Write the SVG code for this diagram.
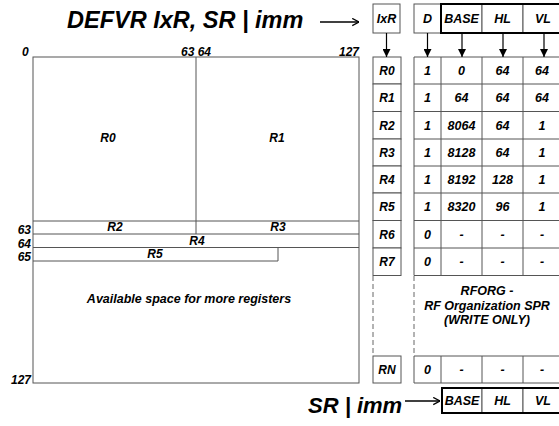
<svg xmlns="http://www.w3.org/2000/svg" width="559" height="426" viewBox="0 0 559 426">
<style>
text{font-family:"Liberation Sans",Arial,sans-serif;font-weight:bold;font-style:italic;fill:#000}
.big{font-size:23.5px}
.big2{font-size:22px}
.t{font-size:12.5px;text-anchor:middle}
.h{font-size:12.5px;text-anchor:middle}
.r{font-size:12px;text-anchor:middle}
.lbl{font-size:12px}
.box{fill:#fff;stroke:#555;stroke-width:1}
.ln{stroke:#555;stroke-width:1;fill:none}
.bold{fill:none;stroke:#000;stroke-width:2}
.dash{stroke:#666;stroke-width:1;stroke-dasharray:5,3;fill:none}
.arr{stroke:#000;stroke-width:1.2;fill:none;marker-end:url(#ah)}
.arr2{stroke:#000;stroke-width:1.3;fill:none;marker-end:url(#oh)}
</style>
<defs>
<marker id="ah" viewBox="0 0 10 10" refX="10" refY="5" markerWidth="8" markerHeight="8" markerUnits="userSpaceOnUse" orient="auto">
<path d="M0,0 L10,5 L0,10 z" fill="#000"/>
</marker>
<marker id="oh" viewBox="0 0 10 10" refX="9.5" refY="5" markerWidth="9" markerHeight="9" markerUnits="userSpaceOnUse" orient="auto">
<path d="M2,1 L9.5,5 L2,9" fill="none" stroke="#000" stroke-width="1.4"/>
</marker>
</defs>
<rect width="559" height="426" fill="#fff"/>

<g id="title">
<text class="big" x="67" y="28">DEFVR IxR, SR | imm</text>
</g>

<g id="regfile">
<rect class="ln" x="33" y="57" width="326" height="326"/>
<line class="ln" x1="196" y1="57" x2="196" y2="234"/>
<line class="ln" x1="33" y1="221" x2="359" y2="221"/>
<line class="ln" x1="33" y1="234" x2="359" y2="234"/>
<line class="ln" x1="33" y1="247.5" x2="359" y2="247.5"/>
<polyline class="ln" points="33,261 278,261 278,247.5"/>
<text class="lbl" x="22" y="56">0</text>
<text class="lbl" x="196" y="56" text-anchor="middle">63 64</text>
<text class="lbl" x="359" y="56" text-anchor="end">127</text>
<text class="lbl" x="31" y="234" text-anchor="end">63</text>
<text class="lbl" x="31" y="247.5" text-anchor="end">64</text>
<text class="lbl" x="31" y="261" text-anchor="end">65</text>
<text class="lbl" x="31" y="384" text-anchor="end">127</text>
<text class="r" x="108" y="142">R0</text>
<text class="r" x="277" y="142">R1</text>
<text class="r" x="115" y="231">R2</text>
<text class="r" x="278" y="231">R3</text>
<text class="r" x="197" y="244.5">R4</text>
<text class="r" x="155" y="258">R5</text>
<text class="t" x="189" y="303">Available space for more registers</text>
</g>

<g id="ixr">
<rect class="box" x="373" y="4" width="27" height="29"/>
<text class="h" x="386.5" y="23">IxR</text>
</g>

<g id="hdr">
<rect class="box" x="414" y="4" width="27" height="29"/>
<rect class="box" x="441" y="4" width="41" height="29"/>
<rect class="box" x="482" y="4" width="41" height="29"/>
<rect class="box" x="523" y="4" width="42" height="29"/>
<rect class="bold" x="441" y="4" width="124" height="29"/>
<text class="h" x="427.5" y="23">D</text>
<text class="h" x="461.5" y="23">BASE</text>
<text class="h" x="502.5" y="23">HL</text>
<text class="h" x="543" y="23">VL</text>
</g>

<g id="rnames">
<rect class="box" x="373" y="57" width="28" height="27"/>
<rect class="box" x="373" y="84" width="28" height="27.5"/>
<rect class="box" x="373" y="111.5" width="28" height="27.5"/>
<rect class="box" x="373" y="139" width="28" height="27"/>
<rect class="box" x="373" y="166" width="28" height="27"/>
<rect class="box" x="373" y="193" width="28" height="27.5"/>
<rect class="box" x="373" y="220.5" width="28" height="27.5"/>
<rect class="box" x="373" y="248" width="28" height="27.5"/>
<rect class="box" x="373" y="356" width="28" height="27"/>
<text class="r" x="387" y="75">R0</text>
<text class="r" x="387" y="102">R1</text>
<text class="r" x="387" y="129.5">R2</text>
<text class="r" x="387" y="156.5">R3</text>
<text class="r" x="387" y="184">R4</text>
<text class="r" x="387" y="211">R5</text>
<text class="r" x="387" y="238.5">R6</text>
<text class="r" x="387" y="266">R7</text>
<text class="r" x="387" y="374">RN</text>
<line class="dash" x1="373" y1="276" x2="373" y2="356"/>
</g>

<g id="rforg">
<line class="ln" x1="414" y1="57" x2="414" y2="275.5"/>
<line class="ln" x1="441" y1="57" x2="441" y2="275.5"/>
<line class="ln" x1="482" y1="57" x2="482" y2="275.5"/>
<line class="ln" x1="523" y1="57" x2="523" y2="275.5"/>
<line class="ln" x1="414" y1="57" x2="559" y2="57"/>
<line class="ln" x1="414" y1="84" x2="559" y2="84"/>
<line class="ln" x1="414" y1="111.5" x2="559" y2="111.5"/>
<line class="ln" x1="414" y1="139" x2="559" y2="139"/>
<line class="ln" x1="414" y1="166" x2="559" y2="166"/>
<line class="ln" x1="414" y1="193" x2="559" y2="193"/>
<line class="ln" x1="414" y1="220.5" x2="559" y2="220.5"/>
<line class="ln" x1="414" y1="248" x2="559" y2="248"/>
<line class="ln" x1="414" y1="275.5" x2="559" y2="275.5"/>
<line class="dash" x1="414" y1="276" x2="414" y2="356"/>
<line class="ln" x1="414" y1="356" x2="559" y2="356"/>
<line class="ln" x1="414" y1="383" x2="559" y2="383"/>
<line class="ln" x1="414" y1="356" x2="414" y2="383"/>
<line class="ln" x1="441" y1="356" x2="441" y2="383"/>
<line class="ln" x1="482" y1="356" x2="482" y2="383"/>
<line class="ln" x1="523" y1="356" x2="523" y2="383"/>

<text class="t" x="427.5" y="75">1</text><text class="t" x="461.5" y="75">0</text><text class="t" x="502.5" y="75">64</text><text class="t" x="542" y="75">64</text>
<text class="t" x="427.5" y="102">1</text><text class="t" x="461.5" y="102">64</text><text class="t" x="502.5" y="102">64</text><text class="t" x="542" y="102">64</text>
<text class="t" x="427.5" y="129.5">1</text><text class="t" x="461.5" y="129.5">8064</text><text class="t" x="502.5" y="129.5">64</text><text class="t" x="542" y="129.5">1</text>
<text class="t" x="427.5" y="156.5">1</text><text class="t" x="461.5" y="156.5">8128</text><text class="t" x="502.5" y="156.5">64</text><text class="t" x="542" y="156.5">1</text>
<text class="t" x="427.5" y="184">1</text><text class="t" x="461.5" y="184">8192</text><text class="t" x="502.5" y="184">128</text><text class="t" x="542" y="184">1</text>
<text class="t" x="427.5" y="211">1</text><text class="t" x="461.5" y="211">8320</text><text class="t" x="502.5" y="211">96</text><text class="t" x="542" y="211">1</text>
<text class="t" x="427.5" y="238.5">0</text><text class="t" x="461.5" y="238.5">-</text><text class="t" x="502.5" y="238.5">-</text><text class="t" x="542" y="238.5">-</text>
<text class="t" x="427.5" y="266">0</text><text class="t" x="461.5" y="266">-</text><text class="t" x="502.5" y="266">-</text><text class="t" x="542" y="266">-</text>
<text class="t" x="427.5" y="374">0</text><text class="t" x="461.5" y="374">-</text><text class="t" x="502.5" y="374">-</text><text class="t" x="542" y="374">-</text>

<text class="h" x="487" y="295">RFORG -</text>
<text class="h" x="487" y="310">RF Organization SPR</text>
<text class="h" x="487" y="324">(WRITE ONLY)</text>
</g>

<g id="srimm">
<text class="big2" x="308" y="413">SR | imm</text>
<rect class="box" x="442" y="388" width="40" height="25"/>
<rect class="box" x="482" y="388" width="41" height="25"/>
<rect class="box" x="523" y="388" width="42" height="25"/>
<rect class="bold" x="442" y="388" width="123" height="25"/>
<text class="h" x="462" y="405">BASE</text>
<text class="h" x="502.5" y="405">HL</text>
<text class="h" x="543" y="405">VL</text>
</g>

<g id="connectors">
<line class="arr2" x1="320" y1="22" x2="359" y2="22"/>
<line class="arr2" x1="405" y1="401" x2="440" y2="401"/>
<line class="arr" x1="386.5" y1="33" x2="386.5" y2="57"/>
<line class="arr" x1="427.5" y1="33" x2="427.5" y2="57"/>
<line class="arr" x1="462" y1="33" x2="462" y2="57"/>
<line class="arr" x1="503" y1="33" x2="503" y2="57"/>
<line class="arr" x1="544" y1="33" x2="544" y2="57"/>
</g>
</svg>
